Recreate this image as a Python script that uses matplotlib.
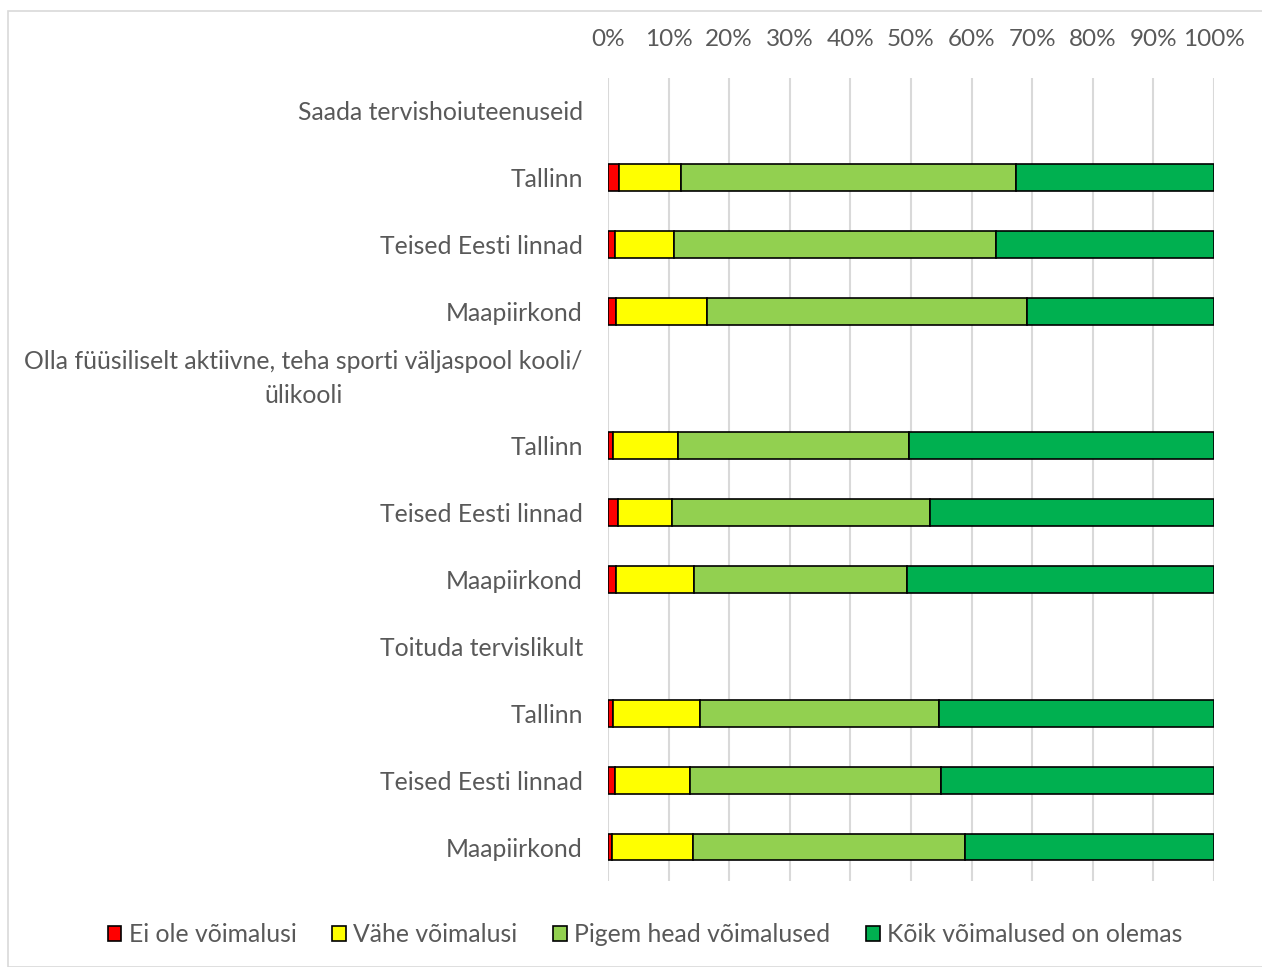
import matplotlib.pyplot as plt
import matplotlib.patches as mpatches
import numpy as np

plt.rcParams['font.family'] = ['Lato', 'DejaVu Sans']

# (percent), None = group header row
labels = ['Saada tervishoiuteenuseid', 'Tallinn', 'Teised Eesti linnad', 'Maapiirkond',
          'Olla füüsiliselt aktiivne, teha sporti väljaspool kooli/\nülikooli',
          'Tallinn', 'Teised Eesti linnad', 'Maapiirkond',
          'Toituda tervislikult', 'Tallinn', 'Teised Eesti linnad', 'Maapiirkond']
ei_ole = [None, 1.8, 1.2, 1.3, None, 0.9, 1.6, 1.3, None, 0.9, 1.1, 0.7]
vahe = [None, 10.3, 9.7, 15.1, None, 10.7, 9.0, 12.9, None, 14.3, 12.4, 13.4]
pigem = [None, 55.2, 53.1, 52.7, None, 38.0, 42.5, 35.1, None, 39.4, 41.5, 44.8]
koik = [None, 32.7, 36.0, 30.9, None, 50.4, 46.9, 50.7, None, 45.4, 45.0, 41.1]

series = [ei_ole, vahe, pigem, koik]
names = ['Ei ole võimalusi', 'Vähe võimalusi', 'Pigem head võimalused', 'Kõik võimalused on olemas']
colors = ['#ff0000', '#ffff00', '#92d050', '#00b050']

fig = plt.figure(figsize=(12.62, 9.67), dpi=100)
# outer chart border
fig.patches.append(mpatches.Rectangle((8 / 1262, 0), 1, 1 - 11 / 967, transform=fig.transFigure,
                                      fill=False, edgecolor='#d9d9d9', linewidth=1.2))
ax = fig.add_axes([608 / 1262, 86.5 / 967, 606 / 1262, 803 / 967])

y = np.arange(len(labels))
rows = [i for i in range(len(labels)) if ei_ole[i] is not None]
left = np.zeros(len(rows))
for vals, name, c in zip(series, names, colors):
    w = np.array([vals[i] for i in rows], dtype=float)
    ax.barh(y[rows], w, left=left, height=0.4, color=c, edgecolor='black', linewidth=1.2,
            label=name, zorder=3)
    left += w

ax.set_xlim(0, 100)
ax.set_ylim(len(labels) - 0.5, -0.5)
ax.set_xticks(np.arange(0, 101, 10))
ax.set_xticklabels([f'{v}%' for v in range(0, 101, 10)])
ax.xaxis.tick_top()
ax.set_yticks(y)
ax.set_yticklabels(labels, multialignment='center', linespacing=1.55)
for t in ax.get_yticklabels():
    if '\n' in t.get_text():
        t.set_va('center')  # center the two-line label block on its row
ax.tick_params(axis='x', length=0, pad=20, labelsize=17.5, labelcolor='#595959')
ax.tick_params(axis='y', length=0, pad=18, labelsize=17.8, labelcolor='#595959')
ax.grid(axis='x', color='#d9d9d9', linewidth=1.5, zorder=0)
for s in ax.spines.values():
    s.set_visible(False)

handles = [mpatches.Patch(facecolor=c, edgecolor='black', linewidth=1.2) for c in colors]
fig.legend(handles, names, loc='center', bbox_to_anchor=(645 / 1262, 1 - 935 / 967), ncol=4,
           frameon=False, fontsize=17.8, labelcolor='#595959', handlelength=0.55, handleheight=0.55,
           handletextpad=0.3, columnspacing=1.45)

fig.savefig('out.png', dpi=100)
